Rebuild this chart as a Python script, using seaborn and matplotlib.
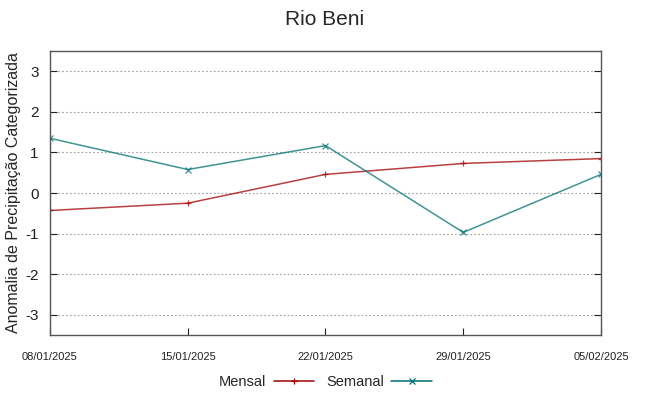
import pandas as pd
import matplotlib
matplotlib.use("Agg")
import matplotlib.pyplot as plt
import matplotlib.dates as mdates
import seaborn as sns

# Data
datas = ["2025-01-08", "2025-01-15", "2025-01-22", "2025-01-29", "2025-02-05"]
mensal = [-0.43, -0.25, 0.46, 0.73, 0.85]
semanal = [1.35, 0.58, 1.17, -0.97, 0.46]
series_names = ["Mensal", "Semanal"]
cores = ["#a00000", "#007070"]

df = pd.DataFrame({
    "data": pd.to_datetime(datas).tolist() * 2,
    "valor": mensal + semanal,
    "serie": ["Mensal"] * len(datas) + ["Semanal"] * len(datas),
})

sns.set_style("white")
plt.rcParams["font.family"] = ["Liberation Sans", "DejaVu Sans"]
plt.rcParams["axes.unicode_minus"] = False

fig = plt.figure(figsize=(6.49, 3.96), dpi=100)
ax = fig.add_axes([0.077, 0.154, 0.849, 0.717])

sns.lineplot(data=df, x="data", y="valor", hue="serie", style="serie",
             palette=cores, markers=["+", "x"], dashes=False, linewidth=1.1,
             markersize=5, markeredgewidth=0.9, alpha=0.75, ax=ax)

# seaborn paints marker edges white; give them the line colour
for ln in ax.get_lines():
    ln.set_markeredgecolor(ln.get_color())

ax.set_xlim(df["data"].min(), df["data"].max())
ax.set_ylim(-3.5, 3.5)
ax.set_yticks(range(-3, 4))
ax.set_xticks(pd.to_datetime(datas))
ax.xaxis.set_major_formatter(mdates.DateFormatter("%d/%m/%Y"))
ax.yaxis.grid(True, linestyle=(0, (1.5, 2)), color="#a0a0a0", linewidth=0.8)
ax.xaxis.grid(False)

ax.tick_params(axis="y", direction="in", left=True, right=True, length=5,
               labelsize=11, colors="#222222", pad=8)
ax.tick_params(axis="x", direction="in", bottom=True, length=5, labelsize=8,
               colors="#222222", pad=12)
for sp in ax.spines.values():
    sp.set_color("#555555")
    sp.set_linewidth(1.0)

ax.set_xlabel("")
ax.set_ylabel("Anomalia de Precipitação Categorizada", fontsize=11.5, labelpad=3)
fig.suptitle("Rio Beni", fontsize=15, y=0.975)

handles, labels = ax.get_legend_handles_labels()
for h in handles:
    h.set_alpha(1)
    h.set_markeredgecolor(h.get_color())
ax.legend(handles, series_names, loc="center", bbox_to_anchor=(0.5, -0.165),
          ncol=2, frameon=False, markerfirst=False, fontsize=10.5,
          handlelength=2.8, columnspacing=0.8, handletextpad=0.5,
          borderpad=0.1)

fig.savefig("out.png", dpi=100)
